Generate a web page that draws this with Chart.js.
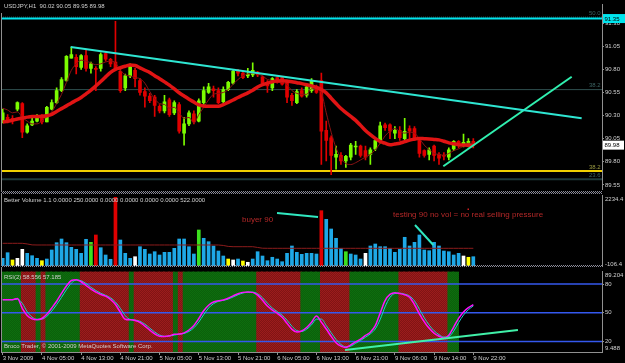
<!DOCTYPE html>
<html>
<head>
<meta charset="utf-8">
<title>USDJPY H1</title>
<script src="https://cdn.jsdelivr.net/npm/chart.js@4.4.1/dist/chart.umd.min.js"></script>
<style>
  html, body { margin: 0; padding: 0; background: #000; }
  #screen { position: relative; width: 625px; height: 363px; background: #000; overflow: hidden; }
  #screen canvas { position: absolute; left: 0; }
</style>
</head>
<body>
<div id="screen">
  <canvas id="priceChart" width="625" height="194" style="top:0"></canvas>
  <canvas id="volumeChart" width="625" height="73" style="top:194px"></canvas>
  <canvas id="rsiChart" width="625" height="96" style="top:267px"></canvas>
</div>
<script>
// time axis labels, one every 8 hourly bars
const timeLabels = ["3 Nov 2009", "4 Nov 05:00", "4 Nov 13:00", "4 Nov 21:00", "5 Nov 05:00", "5 Nov 13:00",
  "5 Nov 21:00", "6 Nov 05:00", "6 Nov 13:00", "6 Nov 21:00", "9 Nov 06:00", "9 Nov 14:00", "9 Nov 22:00"];

// USDJPY H1 candles
const openP = [90.24,90.28,90.27,90.37,90.43,90.12,90.20,90.24,90.27,90.23,
  90.37,90.44,90.57,90.68,90.92,90.93,90.82,90.95,90.81,90.81,
  90.81,90.97,90.91,90.88,90.78,90.60,90.73,90.79,90.68,90.56,
  90.51,90.50,90.40,90.35,90.47,90.33,90.42,90.11,90.21,90.32,
  90.24,90.44,90.55,90.59,90.57,90.45,90.58,90.65,90.78,90.76,
  90.73,90.74,90.77,90.72,90.65,90.60,90.71,90.71,90.66,90.52,
  90.44,90.57,90.52,90.57,90.61,90.68,90.14,90.06,89.85,89.87,
  89.81,89.85,89.96,89.97,89.92,89.88,89.94,90.02,90.20,90.20,
  90.11,90.14,90.05,90.16,90.16,90.03,89.92,89.88,89.97,89.88,
  89.87,89.85,89.94,90.02,89.98,89.98,90.02];
const highP = [90.37,90.31,90.30,90.45,90.44,90.21,90.27,90.31,90.31,90.40,
  90.47,90.60,90.71,90.95,91.04,90.96,90.96,91.01,90.88,90.83,
  90.98,90.99,90.92,91.32,90.81,90.75,90.86,90.81,90.70,90.60,
  90.54,90.52,90.42,90.52,90.49,90.46,90.44,90.28,90.35,90.35,
  90.48,90.61,90.65,90.62,90.60,90.61,90.67,90.80,90.80,90.78,
  90.81,90.87,90.78,90.73,90.68,90.71,90.72,90.72,90.68,90.54,
  90.58,90.60,90.62,90.70,90.63,90.76,90.24,90.08,89.97,89.90,
  89.87,90.00,90.02,89.98,89.97,89.95,90.05,90.23,90.22,90.21,
  90.18,90.18,90.27,90.19,90.18,90.05,89.93,89.95,89.98,89.90,
  89.90,89.95,90.03,90.03,90.10,90.05,90.05];
const lowP = [90.22,90.22,90.21,90.35,90.06,90.11,90.19,90.23,90.21,90.23,
  90.36,90.43,90.56,90.67,90.92,90.75,90.80,90.78,90.76,90.57,
  90.78,90.89,90.83,90.80,90.55,90.57,90.71,90.61,90.52,90.39,
  90.44,90.29,90.33,90.33,90.29,90.31,90.11,89.98,90.19,90.21,
  90.23,90.42,90.54,90.50,90.43,90.44,90.57,90.64,90.73,90.70,
  90.71,90.72,90.72,90.63,90.55,90.57,90.65,90.63,90.44,90.41,
  90.43,90.50,90.50,90.55,90.54,89.77,89.81,89.66,89.72,89.77,
  89.74,89.82,89.88,89.85,89.82,89.77,89.92,90.00,90.14,90.05,
  90.05,90.03,90.03,90.05,90.03,89.85,89.85,89.82,89.81,89.77,
  89.82,89.82,89.92,89.95,89.96,89.96,89.95];
const closeP = [90.33,90.25,90.24,90.44,90.12,90.19,90.24,90.29,90.23,90.39,
  90.44,90.57,90.69,90.94,90.96,90.83,90.95,90.81,90.86,90.80,
  90.96,90.91,90.86,90.81,90.57,90.73,90.83,90.70,90.55,90.51,
  90.46,90.41,90.35,90.45,90.31,90.44,90.13,90.21,90.33,90.23,
  90.46,90.57,90.61,90.57,90.44,90.58,90.66,90.78,90.76,90.71,
  90.75,90.79,90.74,90.65,90.62,90.70,90.68,90.64,90.50,90.46,
  90.56,90.51,90.61,90.67,90.55,90.13,90.03,89.87,89.88,89.81,
  89.86,89.98,89.97,89.87,89.85,89.93,90.03,90.19,90.17,90.13,
  90.14,90.06,90.13,90.13,90.05,89.89,89.87,89.93,89.87,89.84,
  89.86,89.93,90.02,89.98,90.01,90.02,89.98];

// moving averages on the price pane
const maSlow = [90.229,90.239,90.250,90.263,90.274,90.283,90.290,90.290,90.292,90.299,
  90.314,90.345,90.375,90.405,90.436,90.465,90.496,90.535,90.575,90.621,
  90.668,90.719,90.768,90.800,90.818,90.834,90.846,90.842,90.817,90.791,
  90.766,90.731,90.699,90.665,90.630,90.589,90.547,90.512,90.477,90.446,
  90.415,90.404,90.401,90.400,90.400,90.418,90.443,90.469,90.496,90.521,
  90.546,90.575,90.609,90.634,90.651,90.665,90.673,90.677,90.673,90.667,
  90.656,90.646,90.634,90.621,90.604,90.582,90.546,90.488,90.431,90.376,
  90.332,90.290,90.248,90.194,90.138,90.093,90.053,90.019,90.001,89.983,
  89.992,90.001,90.018,90.034,90.045,90.053,90.050,90.047,90.042,90.037,
  90.022,90.005,89.995,89.985,89.981,89.978,89.976];
const maFast = [90.38,90.36,90.33,90.34,90.28,90.24,90.21,90.21,90.24,90.29,
  90.34,90.43,90.53,90.66,90.79,90.86,90.90,90.89,90.87,90.85,
  90.86,90.88,90.89,90.87,90.79,90.74,90.73,90.71,90.70,90.65,
  90.56,90.48,90.43,90.42,90.38,90.39,90.33,90.27,90.28,90.22,
  90.31,90.39,90.47,90.53,90.54,90.55,90.58,90.64,90.69,90.73,
  90.75,90.76,90.75,90.73,90.69,90.68,90.66,90.66,90.63,90.57,
  90.54,90.53,90.53,90.59,90.59,90.55,90.33,90.12,89.95,89.84,
  89.78,89.77,89.79,89.82,89.85,89.88,89.93,90.00,90.08,90.13,
  90.16,90.13,90.11,90.12,90.11,90.05,89.98,89.93,89.89,89.88,
  89.87,89.89,89.92,89.94,89.97,90.00,90.00];

// price levels and drawn objects (bar index, price)
const priceTicks = [91.30, 91.05, 90.80, 90.55, 90.30, 90.05, 89.80, 89.55];
const alertLevel = 91.35;
const fibLevels = [91.366, 90.581, 89.699, 89.61];
const fibNames = ["50.0", "38.2", "38.2", "23.6"];
const trendDownX = [13.87, 118.1], trendDownY = [91.043, 90.272];
const trendUpX = [89.88, 116.07], trendUpY = [89.751, 90.72];

// Better Volume
const volume = [147,332,92,147,444,312,233,147,68,124,
  421,662,784,662,510,444,312,774,675,916,
  497,256,115,2159,751,312,147,200,530,444,
  289,365,256,345,345,477,784,784,530,289,
  1081,807,695,553,388,223,124,92,124,58,
  16,124,365,223,68,181,124,35,312,553,
  345,279,312,312,289,1717,1433,1114,807,477,
  365,289,256,124,312,553,619,530,530,477,
  345,444,840,553,675,916,421,398,675,553,
  388,365,256,312,223,181,200];
const volKind = ("bbywwbbbyb" + "bbbbbbbbgr" + "bbbrbbbwbb" + "bbbbbbbbbb" + "gbbbbbywby" +
  "wbbbbbbbbb" + "bbbbbrbbbb" + "gbbbwbbbbb" + "bbbbbbbbbb" + "bbbbwyb").split("");
const volAvg = [642,642,642,642,642,620,590,586,586,586,
  586,586,586,586,586,586,586,586,586,586,
  586,586,586,586,586,586,586,586,586,586,
  586,586,586,586,586,586,586,586,586,586,
  586,586,586,586,586,570,540,530,530,530,
  530,530,505,480,477,477,477,477,477,477,
  477,477,477,477,477,477,477,477,477,477,
  477,477,477,477,477,477,477,477,477,477,
  477,477,477,477,477,477,477,477,477,477,
  477,477,477,477,477,477,477];
const volLineAX = [55.96, 64.32], volLineAY = [1641, 1509];
const volLineBX = [84.1, 87.84], volLineBY = [1245, 586];

// RSI(2) with signal, zone shading (1 up, -1 down, 0 none)
const rsiMain = [63.7,63.7,63.7,65,54.7,47.1,43.6,42.7,44,48.4,
  55,62,70.2,78,83.7,84.6,82.4,78.5,74.7,71.6,
  69.1,67.3,63.8,58.6,50.5,43.3,42.7,42,40,36.1,
  31.9,27.9,25.5,25.3,25.9,27.5,27.7,29,32,36.6,
  44,52.1,57.9,61.2,62.5,63.4,65.2,67.7,69.9,71.3,
  71.7,71.3,68.4,63,57,52.8,49.5,45.3,39,32.7,
  30,31,34.6,40.1,46.5,40.2,33,25.3,18.7,15.1,
  13.7,16.5,19.6,22.4,26.3,29.7,36.5,49.6,62.7,69.2,
  71,70,68.8,66.2,58.5,48.9,40.5,33.7,28.6,25.5,
  23.6,26.6,35.1,44.2,50.9,55.4,58.556];
const rsiSignal = [63.7,63.7,63.7,64.3,59.8,51,45.4,43.2,43.4,46.2,
  51.7,58.5,66.1,74.1,80.9,84.2,83.5,80.5,76.6,73.2,
  70.4,68.2,65.6,61.2,54.6,46.9,43,42.4,41,38.1,
  34,29.9,26.7,25.4,25.6,26.7,27.6,28.4,30.5,34.3,
  40.3,48,55,59.5,61.9,63,64.3,66.5,68.8,70.6,
  71.5,71.5,69.9,65.7,60,54.9,51.2,47.4,42.2,35.9,
  31.4,30.5,32.8,37.4,43.3,43.4,36.6,29.2,22,16.9,
  14.4,15.1,18.1,21,24.4,28,33.1,43,56.2,66,
  70.1,70.5,69.4,67.5,62.4,53.7,44.7,37.1,31.2,27.1,
  24.6,25.1,30.9,39.7,47.6,53.2,57.185];
const rsiZone = [1,1,1,1,-1,-1,-1,1,-1,1,
  1,1,1,1,1,1,-1,-1,-1,-1,
  -1,-1,-1,-1,-1,-1,1,-1,-1,-1,
  -1,-1,-1,-1,-1,1,-1,1,1,1,
  1,1,1,1,1,1,1,1,1,1,
  1,1,-1,-1,-1,-1,-1,-1,-1,-1,
  -1,1,1,1,1,-1,-1,-1,-1,-1,
  -1,1,1,1,1,1,1,1,1,1,
  1,-1,-1,-1,-1,-1,-1,-1,-1,-1,
  -1,1,1,0,0,0,0];
const rsiLevels = [80, 50, 20];
const rsiTrendX = [69.83, 105.1], rsiTrendY = [11, 32];

// ---- look ----
const FONT = '"Liberation Sans", Arial, sans-serif';
const TXT = "#d0d0d0";
const AXIS = "#909090";
const BULL = "#7cfc00", BEAR = "#e00000";
const X_MIN = -0.347, X_MAX = 122.25;
const VOL_MIN = -106.4, VOL_MAX = 2234.4;
const RSI_MIN = 9, RSI_MAX = 93;

function checker(a, b) {
  const c = document.createElement("canvas");
  c.width = 2; c.height = 2;
  const g = c.getContext("2d");
  if (a) { g.fillStyle = a; g.fillRect(0, 0, 2, 2); }
  g.fillStyle = b;
  g.fillRect(0, 0, 1, 1);
  g.fillRect(1, 1, 1, 1);
  return g.createPattern(c, "repeat");
}
const redZone = checker("#9c1c1c", "#801414");
const greenZone = checker("#0e6e0e", "#0b600b");
const sepDots = checker(null, "#8a8a98");

const idx = closeP.map((c, i) => i);
const seg = (xs, ys) => xs.map((x, i) => ({ x, y: ys[i] }));
const hline = v => seg([X_MIN, X_MAX], [v, v]);

function lineDs(data, color, width, order, extra) {
  return Object.assign({ type: "line", data, borderColor: color, borderWidth: width,
    pointRadius: 0, fill: false, order }, extra || {});
}

function timeAxis(show) {
  const axis = {
    type: "linear", min: X_MIN, max: X_MAX, offset: false, display: show,
    grid: { offset: false, drawOnChartArea: false, color: AXIS, tickLength: 3 },
    border: { display: true, color: AXIS },
    afterBuildTicks: s => { s.ticks = timeLabels.map((t, k) => ({ value: k * 8 })); },
    ticks: { autoSkip: false, maxRotation: 0, minRotation: 0, align: "start", padding: 0,
      color: TXT, font: { family: FONT, size: 6 }, callback: (v, i) => timeLabels[i] }
  };
  if (show) axis.afterFit = s => { s.height = 11; };
  return axis;
}

function baseOptions(scales, padBottom) {
  return {
    responsive: false, animation: false, events: [],
    layout: { padding: { left: 1, right: 0, top: 1, bottom: padBottom } },
    plugins: { legend: { display: false }, tooltip: { enabled: false } },
    scales
  };
}

function text(c, s, x, y, color, size, align) {
  c.font = size + "px " + FONT;
  c.fillStyle = color;
  c.textAlign = align || "left";
  c.textBaseline = "middle";
  c.fillText(s, x, y);
}

// draws in page coordinates, shifted by the canvas top
function overlay(top, draw) {
  return {
    id: "overlay" + top,
    afterDraw(chart) {
      const c = chart.ctx;
      c.save();
      c.translate(0, -top);
      draw(c, chart);
      c.restore();
    }
  };
}

// ---- price pane ----
const fibColors = ["#2f5050", "#2f4f4f", "#f0d000", "#1e3a3a"];
const fibWidths = [1, 1, 2, 2];
const fibDash = [[1, 1], [], [], []];
const candleColor = ctx => closeP[ctx.dataIndex] >= openP[ctx.dataIndex] ? BULL : BEAR;

new Chart(document.getElementById("priceChart"), {
  type: "bar",
  data: {
    datasets: [
      ...fibLevels.map((p, k) => lineDs(hline(p), fibColors[k], fibWidths[k], 20, { borderDash: fibDash[k] })),
      lineDs(hline(alertLevel), "#00e5ee", 2, 19),
      { type: "bar", data: idx.map(i => ({ x: i, y: [lowP[i], highP[i]] })), backgroundColor: candleColor,
        barThickness: 1, grouped: false, order: 12 },
      { type: "bar", data: idx.map(i => ({ x: i, y: [openP[i], closeP[i]] })), backgroundColor: candleColor,
        barThickness: 3, minBarLength: 1, grouped: false, order: 11 },
      lineDs(idx.map(i => ({ x: i, y: maFast[i] })), "#8b1414", 1, 10, { cubicInterpolationMode: "monotone" }),
      lineDs(idx.map(i => ({ x: i, y: maSlow[i] })), "#e01414", 3.5, 9, { cubicInterpolationMode: "monotone" }),
      lineDs(seg(trendDownX, trendDownY), "#2ee6d2", 2, 5),
      lineDs(seg(trendUpX, trendUpY), "#30f0b0", 2, 5)
    ]
  },
  options: baseOptions({
    x: timeAxis(false),
    y: {
      position: "right", min: 89.501, max: 91.501,
      afterBuildTicks: s => { s.ticks = priceTicks.map(v => ({ value: v })); },
      afterFit: s => { s.width = 23; },
      grid: { drawOnChartArea: false, color: AXIS, tickLength: 2 },
      border: { color: AXIS },
      ticks: { color: TXT, padding: 1, font: { family: FONT, size: 6 }, callback: v => v.toFixed(2) }
    }
  }, 1),
  plugins: [overlay(0, (c, chart) => {
    const y = chart.scales.y;
    const last = idx.length - 1;
    text(c, "USDJPY,H1  " + [openP[last], highP[last], lowP[last], closeP[last]].map(v => v.toFixed(2)).join(" "),
      4, 6, TXT, 6);
    fibLevels.forEach((p, k) => text(c, fibNames[k], 589, y.getPixelForValue(p) - 4,
      k === 2 ? "#9a9a40" : "#3c6464", 6));
    c.fillStyle = AXIS;
    c.fillRect(1, 13, 1, 179);
    c.fillStyle = sepDots;
    c.fillRect(1, 191, 601, 3);
    const ya = y.getPixelForValue(alertLevel);
    c.fillStyle = "#00e5ee";
    c.fillRect(603, ya - 4.5, 22, 9);
    text(c, alertLevel.toFixed(2), 604.5, ya + 0.5, "#000", 6);
    const yl = y.getPixelForValue(closeP[last]);
    c.fillStyle = "#ffffff";
    c.fillRect(603, yl - 4.5, 21, 9);
    text(c, closeP[last].toFixed(2), 604.5, yl + 0.5, "#000", 6);
  })]
});

// ---- volume pane ----
const volColors = { b: "#1ea8e6", y: "#ffff00", w: "#ffffff", g: "#3ce01e", r: "#e00000" };

new Chart(document.getElementById("volumeChart"), {
  type: "bar",
  data: {
    datasets: [
      { type: "bar", data: idx.map(i => ({ x: i, y: [VOL_MIN, volume[i]] })),
        backgroundColor: ctx => volColors[volKind[ctx.dataIndex]] || volColors.b,
        barThickness: 3, grouped: false, order: 5 },
      lineDs(idx.map(i => ({ x: i, y: volAvg[i] })), "#8c1c1c", 1, 4),
      lineDs(seg(volLineAX, volLineAY), "#30e8c0", 2, 1),
      lineDs(seg(volLineBX, volLineBY), "#30e8c0", 2, 1)
    ]
  },
  options: baseOptions({
    x: timeAxis(false),
    y: {
      position: "right", min: VOL_MIN, max: VOL_MAX,
      afterFit: s => { s.width = 23; },
      grid: { display: false }, border: { color: AXIS }, ticks: { display: false }
    }
  }, 1),
  plugins: [overlay(194, c => {
    text(c, "Better Volume 1.1 0.0000 250.0000 0.0000 0.0000 0.0000 0.0000 522.0000", 4, 200, TXT, 6);
    text(c, "buyer 90", 242, 219.5, "#b42828", 8);
    text(c, "testing 90 no vol = no real selling pressure", 393, 215, "#b42828", 8);
    c.fillStyle = "#d02020";
    c.fillRect(467.5, 208.5, 1.5, 1.5);
    text(c, VOL_MAX.toFixed(1), 605, 199, TXT, 6);
    text(c, VOL_MIN.toFixed(1), 605, 264, TXT, 6);
    c.fillStyle = AXIS;
    c.fillRect(1, 194, 1, 72);
    c.fillStyle = sepDots;
    c.fillRect(1, 265, 601, 2);
  })]
});

// ---- RSI pane ----
new Chart(document.getElementById("rsiChart"), {
  type: "bar",
  data: {
    datasets: [
      { type: "bar",
        data: idx.filter(i => rsiZone[i] !== 0).map(i => ({ x: i + 0.4, y: [RSI_MIN, RSI_MAX], z: rsiZone[i] })),
        backgroundColor: ctx => (ctx.raw && ctx.raw.z > 0) ? greenZone : redZone,
        barThickness: 6, grouped: false, order: 20 },
      ...rsiLevels.map(v => lineDs(hline(v), "#3458ee", 1.5, 15)),
      lineDs(idx.map(i => ({ x: i, y: rsiSignal[i] })), "#1ccfcf", 1, 11, { cubicInterpolationMode: "monotone" }),
      lineDs(idx.map(i => ({ x: i, y: rsiMain[i] })), "#ff10ff", 1.5, 10, { cubicInterpolationMode: "monotone" }),
      lineDs(seg(rsiTrendX, rsiTrendY), "#40f0a8", 2, 5)
    ]
  },
  options: baseOptions({
    x: timeAxis(true),
    y: {
      position: "right", min: RSI_MIN, max: RSI_MAX,
      afterBuildTicks: s => { s.ticks = rsiLevels.map(v => ({ value: v })); },
      afterFit: s => { s.width = 23; },
      grid: { drawOnChartArea: false, color: AXIS, tickLength: 2 },
      border: { color: AXIS },
      ticks: { color: TXT, padding: 1, font: { family: FONT, size: 6 }, callback: v => String(v) }
    }
  }, 0),
  plugins: [overlay(267, c => {
    const last = idx.length - 1;
    text(c, "RSI(2) " + rsiMain[last].toFixed(3) + " " + rsiSignal[last].toFixed(3), 4, 277.5, TXT, 6);
    text(c, "Broco Trader, \u00a9 2001-2009 MetaQuotes Software Corp.", 4, 346.5, TXT, 6);
    text(c, "89.204", 605, 275, TXT, 6);
    text(c, "9.488", 605, 348.5, TXT, 6);
    c.fillStyle = AXIS;
    c.fillRect(1, 267, 1, 85);
  })]
});
</script>
</body>
</html>
